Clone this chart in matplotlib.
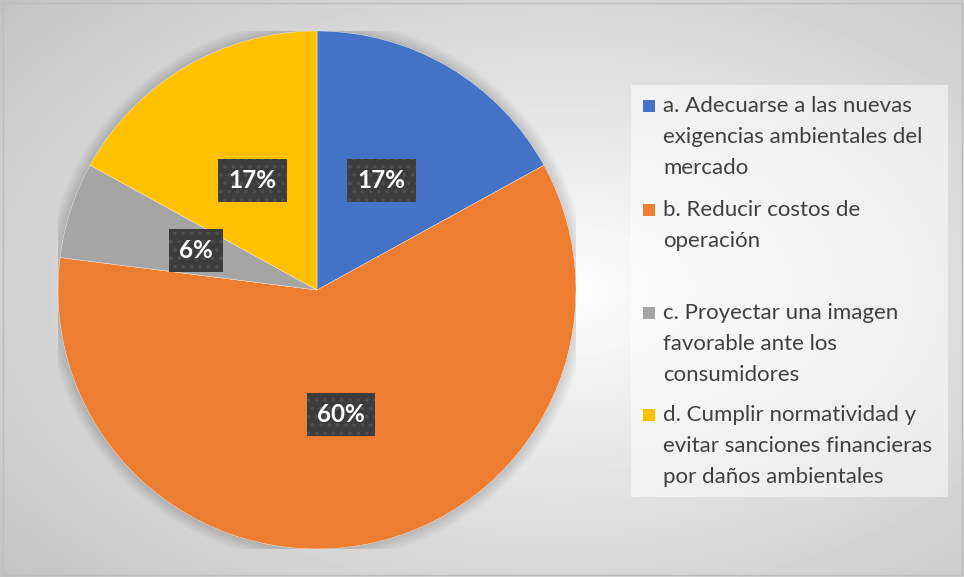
import numpy as np
import matplotlib.pyplot as plt
from matplotlib.patches import Rectangle, Circle

plt.rcParams['font.family'] = ['Lato', 'DejaVu Sans']

# Survey answers and their shares (percent)
categories = [
    "a. Adecuarse a las nuevas\nexigencias ambientales del\nmercado",
    "b. Reducir costos de\noperación",
    "c. Proyectar una imagen\nfavorable ante los\nconsumidores",
    "d. Cumplir normatividad y\nevitar sanciones financieras\npor daños ambientales",
]
shares = [17, 60, 6, 17]
colors = ["#4472C4", "#ED7D31", "#A5A5A5", "#FFC000"]

W, H = 964, 577
fig = plt.figure(figsize=(W / 100, H / 100), dpi=100)

# Radial gray gradient behind everything
bg = fig.add_axes([0, 0, 1, 1], zorder=0)
yy, xx = np.mgrid[0:H, 0:W]
cx, cy = 560, 290
r = np.sqrt(((xx - cx) / (W * 0.62)) ** 2 + ((yy - cy) / (H * 0.62)) ** 2)
r = np.clip(r / r.max(), 0, 1)
shade = 1.0 - 0.235 * r ** 0.9
bg.imshow(shade, cmap="gray", vmin=0, vmax=1, extent=[0, W, H, 0], aspect="auto",
          interpolation="bilinear")
bg.add_patch(Rectangle((2.5, 2.5), W - 5, H - 5, fill=False, ec="#bdbdbd", lw=1))
bg.set_xlim(0, W)
bg.set_ylim(H, 0)
bg.axis("off")

# Legend panel
bg.add_patch(Rectangle((631, 85), 317, 412, fc="white", ec="none", alpha=0.5))
entry_y = [96, 200, 303, 405]
for label, color, y in zip(categories, colors, entry_y):
    bg.add_patch(Rectangle((643, y + 4), 12, 12, fc=color, ec="none"))
    bg.text(663, y, label, fontsize=16, color="#404040", va="top", ha="left",
            linespacing=1.68)

# Pie
pcx, pcy, pr = 317, 290, 259
ax = fig.add_axes([(pcx - pr) / W, (H - pcy - pr) / H, 2 * pr / W, 2 * pr / H], zorder=1)

# soft shadow around the pie
for k in range(12):
    ax.add_patch(Circle((0, 0.0), 1 + 0.004 * (12 - k), fc="black", ec="none",
                        alpha=0.012, zorder=0))

wedges, texts, autotexts = ax.pie(
    shares, colors=colors, startangle=90, counterclock=False, radius=1,
    autopct=lambda p: f"{p:.0f}%", pctdistance=0.49,
    wedgeprops=dict(edgecolor="white", linewidth=0.25),
    textprops=dict(color="white", fontsize=17.5, fontweight="bold"),
)
ax.set_xlim(-1, 1)
ax.set_ylim(-1, 1)
ax.set_aspect("equal")
ax.axis("off")

plt.rcParams['hatch.linewidth'] = 1.5
for t in autotexts:
    t.set_bbox(dict(boxstyle="square,pad=0.42", fc="#3c3c3c", ec="#4f4f4f",
                    lw=0, hatch=".."))

fig.savefig("out.png", dpi=100)
